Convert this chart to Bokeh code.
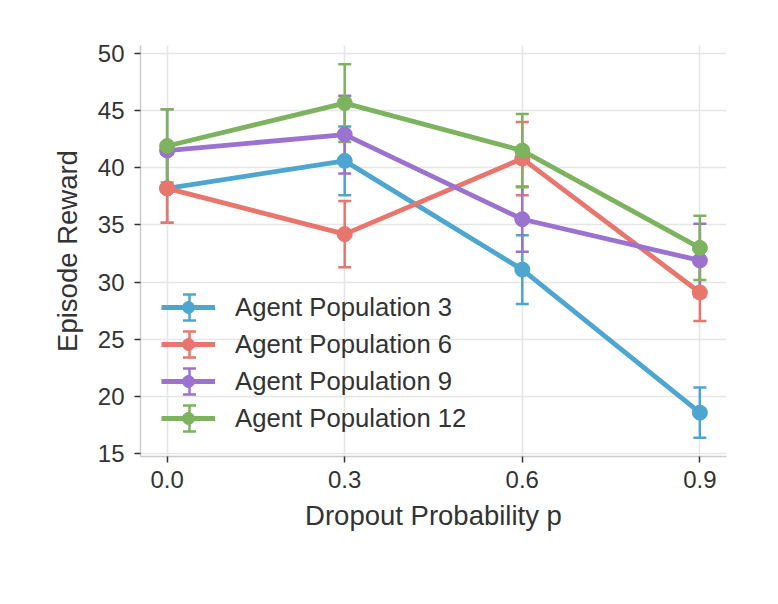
from bokeh.plotting import figure
from bokeh.models import (ColumnDataSource, Whisker, TeeHead, Legend, LegendItem,
                          FixedTicker, Range1d)
from bokeh.embed import file_html
from bokeh.resources import INLINE

# ---- data -------------------------------------------------------------
dropout = [0.0, 0.3, 0.6, 0.9]
x_tick_labels = ["0.0", "0.3", "0.6", "0.9"]
y_ticks = [15, 20, 25, 30, 35, 40, 45, 50]

series_names = ["Agent Population 3", "Agent Population 6",
                "Agent Population 9", "Agent Population 12"]

reward_pop3 = [38.2, 40.6, 31.1, 18.6]
err_pop3 = [3.0, 3.0, 3.0, 2.2]

reward_pop6 = [38.2, 34.2, 40.8, 29.1]
err_pop6 = [3.0, 2.9, 3.2, 2.5]

reward_pop9 = [41.5, 42.9, 35.5, 31.9]
err_pop9 = [3.6, 3.4, 2.85, 3.2]

reward_pop12 = [41.9, 45.65, 41.5, 33.0]
err_pop12 = [3.2, 3.4, 3.2, 2.8]

colors = ["#4ca6d0", "#e8766c", "#9b72cf", "#7db35e"]

# ---- styling ----------------------------------------------------------
FONT = "Liberation Sans"
TEXT_COLOR = "#333333"
W, H = 778, 604
BORDER_L, BORDER_R, BORDER_T, BORDER_B = 140, 52, 45, 148

p = figure(width=W, height=H, output_backend="svg", toolbar_location=None,
           x_range=Range1d(-0.045, 0.945), y_range=Range1d(14.77, 50.68),
           min_border_left=BORDER_L, min_border_right=BORDER_R,
           min_border_top=BORDER_T, min_border_bottom=BORDER_B)
p.outline_line_color = None
p.background_fill_color = "white"

for ax in (p.xaxis[0], p.yaxis[0]):
    ax.axis_line_color = "#cccccc"
    ax.axis_line_width = 1.5
    ax.major_tick_line_color = "#333333"
    ax.major_tick_line_width = 1.5
    ax.major_tick_out = 6
    ax.major_tick_in = 0
    ax.minor_tick_line_color = None
    ax.major_label_text_font = FONT
    ax.major_label_text_font_size = "24px"
    ax.major_label_text_color = TEXT_COLOR
    ax.axis_label_text_font = FONT
    ax.axis_label_text_font_size = "27.5px"
    ax.axis_label_text_font_style = "normal"
    ax.axis_label_text_color = TEXT_COLOR

p.xaxis.ticker = FixedTicker(ticks=dropout)
p.xaxis.major_label_overrides = dict(zip(dropout, x_tick_labels))
p.xaxis.axis_label = "Dropout Probability p"
p.xaxis.major_label_standoff = 8
p.xaxis.axis_label_standoff = 9

p.yaxis.ticker = FixedTicker(ticks=y_ticks)
p.yaxis.axis_label = "Episode Reward"
p.yaxis.major_label_standoff = 10
p.yaxis.axis_label_standoff = 12

for g in (p.xgrid[0], p.ygrid[0]):
    g.grid_line_color = "#e6e6e6"
    g.grid_line_width = 1.6

# ---- series -----------------------------------------------------------
all_rewards = [reward_pop3, reward_pop6, reward_pop9, reward_pop12]
all_errors = [err_pop3, err_pop6, err_pop9, err_pop12]

legend_items = []
for name, rewards, errs, color in zip(series_names, all_rewards, all_errors, colors):
    src = ColumnDataSource(dict(
        x=dropout, y=rewards,
        upper=[r + e for r, e in zip(rewards, errs)],
        lower=[r - e for r, e in zip(rewards, errs)],
    ))
    whisk = Whisker(base="x", upper="upper", lower="lower", source=src,
                    line_color=color, line_width=2.5,
                    upper_head=TeeHead(size=13, line_color=color, line_width=2.5),
                    lower_head=TeeHead(size=13, line_color=color, line_width=2.5))
    p.add_layout(whisk)
    line_r = p.line("x", "y", source=src, line_color=color, line_width=4.8)
    dot_r = p.scatter("x", "y", source=src, size=15, fill_color=color,
                      line_color=color, line_width=1)
    legend_items.append(LegendItem(label=name, renderers=[line_r, dot_r]))

# ---- legend -----------------------------------------------------------
LEG_PAD = 5
LEG_GLYPH_W = 54
LEG_GLYPH_H = 30
LEG_SPACING = 7
LEG_X = 21          # from left edge of the frame
LEG_Y = 23          # bottom of the legend box, from bottom of the frame
ROW_SHIFT_Y = 5     # rows sit this much below the nominal box layout
ROW_SHIFT_X = 4     # glyphs sit this much left of the nominal box layout

legend = Legend(items=legend_items, location=(LEG_X, LEG_Y),
                glyph_width=LEG_GLYPH_W, glyph_height=LEG_GLYPH_H,
                label_height=LEG_GLYPH_H, label_standoff=20,
                spacing=LEG_SPACING, padding=LEG_PAD, margin=0,
                label_text_font=FONT, label_text_font_size="25.7px",
                label_text_color=TEXT_COLOR,
                background_fill_alpha=0, border_line_color=None)
p.add_layout(legend)

# error-bar symbol drawn across each legend glyph (frame screen units)
n = len(series_names)
leg_height = 2 * LEG_PAD + n * LEG_GLYPH_H + (n - 1) * LEG_SPACING
leg_top = LEG_Y + leg_height
for i, color in enumerate(colors):
    cy = leg_top - LEG_PAD - LEG_GLYPH_H / 2 - ROW_SHIFT_Y - i * (LEG_GLYPH_H + LEG_SPACING)
    cx = LEG_X + LEG_PAD + LEG_GLYPH_W / 2 - ROW_SHIFT_X
    lsrc = ColumnDataSource(dict(x=[cx], upper=[cy + 13], lower=[cy - 13]))
    p.add_layout(Whisker(base="x", upper="upper", lower="lower", source=lsrc,
                         base_units="screen", upper_units="screen", lower_units="screen",
                         line_color=color, line_width=2.5, level="overlay",
                         upper_head=TeeHead(size=13, line_color=color, line_width=2.5),
                         lower_head=TeeHead(size=13, line_color=color, line_width=2.5)))

with open("out.html", "w") as f:
    f.write(file_html(p, INLINE))
